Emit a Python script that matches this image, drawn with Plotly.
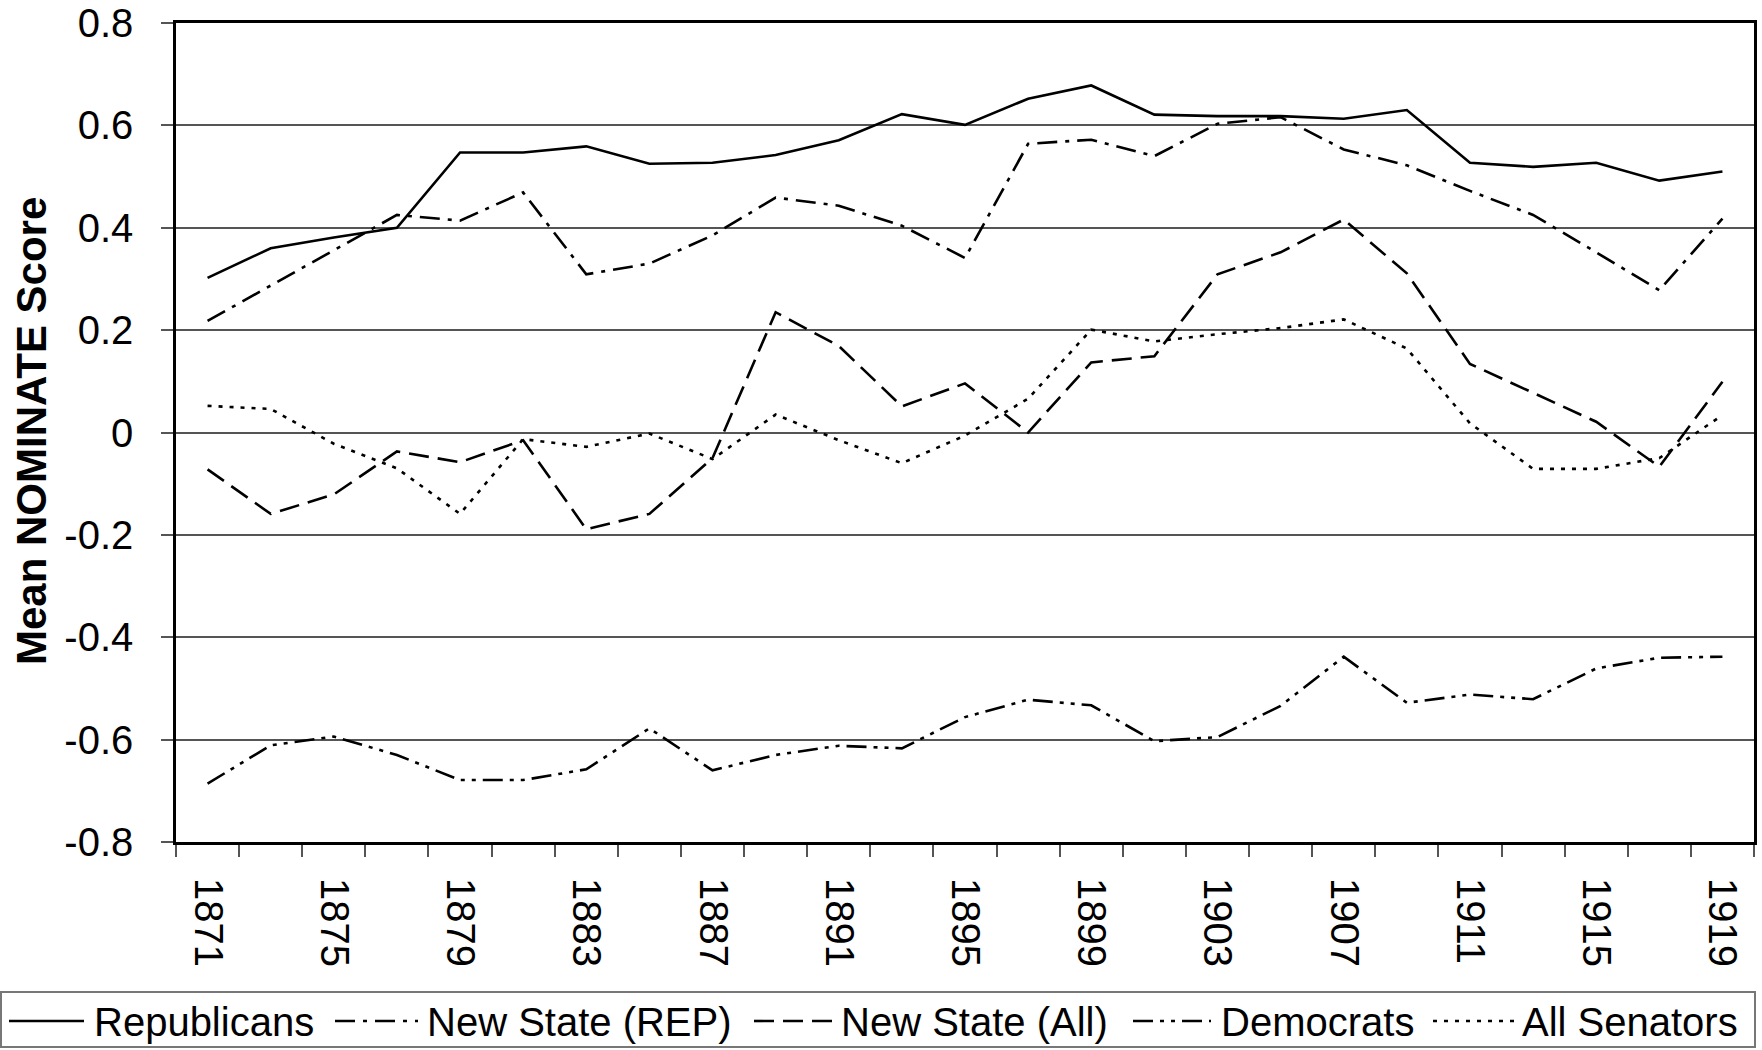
import plotly.graph_objects as go

# ---------------- data ----------------
years = [1871, 1873, 1875, 1877, 1879, 1881, 1883, 1885, 1887, 1889, 1891, 1893, 1895,
         1897, 1899, 1901, 1903, 1905, 1907, 1909, 1911, 1913, 1915, 1917, 1919]
tick_years = [1871, 1875, 1879, 1883, 1887, 1891, 1895, 1899, 1903, 1907, 1911, 1915, 1919]
y_ticks = [-0.8, -0.6, -0.4, -0.2, 0, 0.2, 0.4, 0.6, 0.8]
y_tick_labels = ["-0.8", "-0.6", "-0.4", "-0.2", "0", "0.2", "0.4", "0.6", "0.8"]
y_title = "Mean NOMINATE Score"

republicans = [0.302, 0.360, 0.381, 0.400, 0.547, 0.547, 0.559, 0.525, 0.527, 0.542, 0.571, 0.622, 0.601,
               0.652, 0.678, 0.621, 0.618, 0.618, 0.613, 0.630, 0.527, 0.519, 0.527, 0.492, 0.510]
new_state_rep = [0.218, 0.287, 0.356, 0.425, 0.414, 0.469, 0.309, 0.330, 0.385, 0.459, 0.443, 0.404, 0.341,
                 0.564, 0.572, 0.540, 0.603, 0.616, 0.553, 0.522, 0.472, 0.425, 0.352, 0.278, 0.418]
new_state_all = [-0.072, -0.159, -0.121, -0.037, -0.058, -0.015, -0.189, -0.159, -0.050, 0.235, 0.169, 0.051, 0.096,
                 0.000, 0.137, 0.149, 0.309, 0.352, 0.416, 0.311, 0.134, 0.077, 0.021, -0.067, 0.099]
democrats = [-0.686, -0.611, -0.594, -0.630, -0.679, -0.679, -0.658, -0.578, -0.660, -0.630, -0.612, -0.617, -0.556,
             -0.522, -0.533, -0.603, -0.595, -0.534, -0.438, -0.528, -0.512, -0.521, -0.461, -0.440, -0.438]
all_senators = [0.052, 0.046, -0.022, -0.070, -0.159, -0.013, -0.028, -0.002, -0.052, 0.035, -0.015, -0.060, -0.006,
                0.066, 0.201, 0.178, 0.192, 0.204, 0.221, 0.164, 0.018, -0.071, -0.071, -0.050, 0.034]

series_names = ["Republicans", "New State (REP)", "New State (All)", "Democrats", "All Senators"]
series_values = [republicans, new_state_rep, new_state_all, democrats, all_senators]

# ---------------- styles ----------------
dashes = ["solid", "20px,8px,4px,8px", "20px,9px", "20px,7px,4px,7px,4px,7px", "4px,7px"]
LINE_W = 2.6
FONT = "Liberation Sans, Arial, sans-serif"

W, H = 1762, 1050
L, R, T, B = 176, 1754, 23, 842   # plot area in px

def px_x(px):
    return (px - L) / (R - L)

def px_y(py):
    return (B - py) / (B - T)

fig = go.Figure()
for name, vals, dash in zip(series_names, series_values, dashes):
    fig.add_trace(go.Scatter(x=years, y=vals, mode="lines", name=name, showlegend=False,
                             line=dict(color="black", width=LINE_W, dash=dash)))

# ---------------- custom legend (long line samples, like the original) ----------------
legend_slots = [(9, 84, 92), (335, 418, 425), (754, 832, 839), (1133, 1211, 1219), (1433, 1514, 1520)]
leg_y = 1021
shapes = [dict(type="rect", xref="paper", yref="paper",
               x0=px_x(1), x1=px_x(1755), y0=px_y(992), y1=px_y(1047),
               line=dict(color="#777777", width=2), fillcolor="rgba(0,0,0,0)")]
annotations = []
for (x0, x1, xt), name, dash in zip(legend_slots, series_names, dashes):
    shapes.append(dict(type="line", xref="paper", yref="paper",
                       x0=px_x(x0), x1=px_x(x1), y0=px_y(leg_y), y1=px_y(leg_y),
                       line=dict(color="black", width=LINE_W, dash=dash)))
    annotations.append(dict(xref="paper", yref="paper", x=px_x(xt), y=px_y(leg_y + 1),
                            text=name, showarrow=False, xanchor="left", yanchor="middle",
                            font=dict(family=FONT, size=40, color="black")))

# y-axis title (placed explicitly, rotated)
annotations.append(dict(xref="paper", yref="paper", x=px_x(31), y=px_y(431),
                        text="<b>" + y_title + "</b>", showarrow=False, textangle=-90,
                        xanchor="center", yanchor="middle",
                        font=dict(family=FONT, size=42, color="black")))

fig.update_layout(
    width=W, height=H,
    margin=dict(l=L, r=W - R, t=T, b=H - B, autoexpand=False),
    paper_bgcolor="white", plot_bgcolor="white",
    font=dict(family=FONT, size=40, color="black"),
    shapes=shapes, annotations=annotations,
    showlegend=False,
)

fig.update_xaxes(
    range=[1870, 1920],
    tickmode="array", tickvals=tick_years, ticktext=[str(y) for y in tick_years],
    tickangle=90, ticks="", ticklabelstandoff=25, ticklabeloverflow="allow",
    tickfont=dict(family=FONT, size=40, color="black"),
    showgrid=False, zeroline=False,
    showline=True, linecolor="black", linewidth=3, mirror=True,
    minor=dict(ticks="outside", ticklen=12, tickwidth=1.5, tickcolor="#555555",
               tick0=1870, dtick=2, showgrid=False),
)
fig.update_yaxes(
    range=[-0.8, 0.8],
    tickmode="array", tickvals=y_ticks, ticktext=y_tick_labels,
    ticks="outside", ticklen=12, tickwidth=1.5, tickcolor="#555555",
    ticklabelstandoff=20, ticklabeloverflow="allow",
    tickfont=dict(family=FONT, size=40, color="black"),
    showgrid=True, gridcolor="#555555", gridwidth=1.5, zeroline=False,
    showline=True, linecolor="black", linewidth=2.5, mirror=True,
)

# remove the default 8px page margin so the figure fills the window exactly
fig.write_html("out.html", config={"displayModeBar": False},
               post_script="document.body.style.margin='0';")
